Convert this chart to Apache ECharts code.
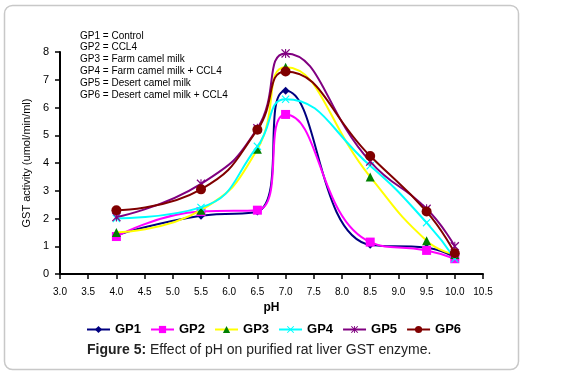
<!DOCTYPE html>
<html>
  <head>
    <meta charset="UTF-8" />
    <title></title>
    <style type="text/css">
      * {
        margin: 0;
        padding: 0;
      }
      #main {
        width: 563px;
        height: 375px;
        background-color: #fff;
      }
    </style>
  </head>
  <body>
    <div id="main"></div>
  </body>
  <script src="https://cdn.jsdelivr.net/npm/echarts@6/dist/echarts.min.js"></script>
  <script type="text/javascript">
    // pH points measured
    var phValues = [4.0, 5.5, 6.5, 7.0, 8.5, 9.5, 10.0]
    var groupNames = ['GP1', 'GP2', 'GP3', 'GP4', 'GP5', 'GP6']
    var groupLabels = [
      'GP1 = Control',
      'GP2 = CCL4',
      'GP3 = Farm camel milk',
      'GP4 = Farm camel milk + CCL4',
      'GP5 = Desert camel milk',
      'GP6 = Desert camel milk + CCL4'
    ]
    var gp1 = [1.4, 2.1, 2.25, 6.6, 1.05, 0.95, 0.6]
    var gp2 = [1.35, 2.25, 2.3, 5.75, 1.15, 0.85, 0.55]
    var gp3 = [1.5, 2.3, 4.5, 7.45, 3.5, 1.2, 0.7]
    var gp4 = [2.0, 2.4, 4.6, 6.3, 3.9, 1.85, 0.55]
    var gp5 = [2.05, 3.25, 5.25, 7.95, 4.05, 2.35, 1.0]
    var gp6 = [2.3, 3.05, 5.2, 7.3, 4.25, 2.25, 0.75]

    var allData = [gp1, gp2, gp3, gp4, gp5, gp6]
    var lineColors = ['#000080', '#ff00ff', '#ffff00', '#00ffff', '#800080', '#800000']
    var markColors = ['#000080', '#ff00ff', '#008000', '#00ffff', '#800080', '#800000']
    var xMark = 'path://M0,1 L1,0 L5,4 L9,0 L10,1 L6,5 L10,9 L9,10 L5,6 L1,10 L0,9 L4,5Z'
    var starMark = 'path://M0,1 L1,0 L5,4 L9,0 L10,1 L6,5 L10,9 L9,10 L5,6 L1,10 L0,9 L4,5Z M4.4,0 L5.6,0 L5.6,10 L4.4,10Z'
    var symbols = ['diamond', 'rect', 'triangle', xMark, starMark, 'circle']
    var symbolSizes = [8, 9, 9, 8, 9, 10]

    var series = []
    allData.forEach((vals, index) => {
      series.push({
        name: groupNames[index],
        type: 'line',
        smooth: 0.5,
        symbol: symbols[index],
        symbolSize: symbolSizes[index],
        showAllSymbol: true,
        data: vals.map((v, i) => [phValues[i], v]),
        lineStyle: { color: lineColors[index], width: 2 },
        itemStyle: { color: markColors[index] },
        z: 2 + index
      })
    })

    var fontName = 'Liberation Sans, Arial, sans-serif'
    var myCharts = echarts.init(document.getElementById('main'))
    var option = {
      animation: false,
      textStyle: { fontFamily: fontName },
      grid: { left: 60, right: 80, top: 52, bottom: 101, containLabel: false },
      xAxis: {
        type: 'value',
        min: 3,
        max: 10.5,
        interval: 0.5,
        name: 'pH',
        nameLocation: 'middle',
        nameGap: 20,
        nameTextStyle: { color: '#000', fontSize: 12, fontWeight: 'bold' },
        splitLine: { show: false },
        axisLine: { lineStyle: { color: '#000', width: 2 } },
        axisTick: { show: true, length: 5, lineStyle: { color: '#000', width: 1.5 } },
        axisLabel: {
          color: '#000',
          fontSize: 10,
          margin: 13,
          formatter: (v) => v.toFixed(1)
        }
      },
      yAxis: {
        type: 'value',
        min: 0,
        max: 8,
        interval: 1,
        name: 'GST activity (umol/min/ml)',
        nameLocation: 'middle',
        nameRotate: 90,
        nameGap: 19,
        nameTextStyle: { color: '#000', fontSize: 11 },
        splitLine: { show: false },
        axisLine: { show: true, lineStyle: { color: '#000', width: 2 } },
        axisTick: { show: true, length: 5, lineStyle: { color: '#000', width: 1.5 } },
        axisLabel: { color: '#000', fontSize: 11, margin: 11 }
      },
      legend: {
        data: groupNames,
        left: 81,
        top: 318,
        itemWidth: 23,
        itemHeight: 9,
        itemGap: 9,
        textStyle: { color: '#000', fontSize: 13, fontWeight: 'bold' }
      },
      graphic: [
        {
          type: 'rect',
          shape: { x: 4.5, y: 5.5, width: 514, height: 364, r: 8 },
          style: { fill: 'none', stroke: '#c8c8c8', lineWidth: 1.5 },
          silent: true
        },
        {
          type: 'text',
          left: 80,
          top: 30,
          style: {
            text: groupLabels.join('\n'),
            fontSize: 10,
            lineHeight: 11.8,
            fill: '#000',
            fontFamily: fontName
          }
        },
        {
          type: 'text',
          left: 87,
          top: 343,
          style: {
            text: '{b|Figure 5:} Effect of pH on purified rat liver GST enzyme.',
            fontSize: 14,
            fill: '#222',
            fontFamily: fontName,
            rich: {
              b: { fontWeight: 'bold', fontSize: 14, fill: '#222', fontFamily: fontName }
            }
          }
        }
      ],
      series: series
    }
    myCharts.setOption(option)
    window.addEventListener('resize', () => {
      myCharts.resize()
    })
  </script>
</html>
